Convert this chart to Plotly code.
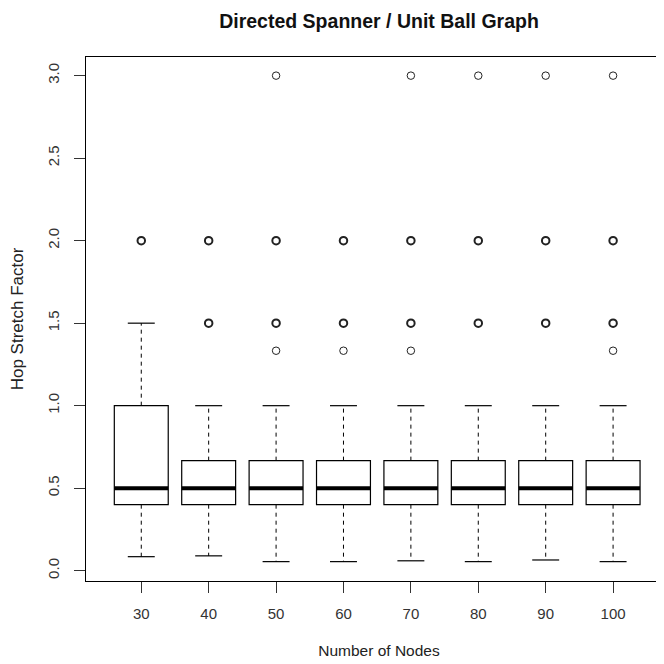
import plotly.graph_objects as go

# ---- data ----
nodes = ["30", "40", "50", "60", "70", "80", "90", "100"]
positions = [1, 2, 3, 4, 5, 6, 7, 8]
lower_whisker = [0.085, 0.09, 0.055, 0.055, 0.06, 0.055, 0.065, 0.055]
q1 = [0.4, 0.4, 0.4, 0.4, 0.4, 0.4, 0.4, 0.4]
median = [0.5, 0.5, 0.5, 0.5, 0.5, 0.5, 0.5, 0.5]
q3 = [1.0, 0.667, 0.667, 0.667, 0.667, 0.667, 0.667, 0.667]
upper_whisker = [1.5, 1.0, 1.0, 1.0, 1.0, 1.0, 1.0, 1.0]

# outliers: group position, value, repeated (bold) or single
outlier_pos = [1,
               2, 2,
               3, 3, 3, 3,
               4, 4, 4,
               5, 5, 5, 5,
               6, 6, 6,
               7, 7, 7,
               8, 8, 8, 8]
outlier_val = [2.0,
               1.5, 2.0,
               1.333, 1.5, 2.0, 3.0,
               1.333, 1.5, 2.0,
               1.333, 1.5, 2.0, 3.0,
               1.5, 2.0, 3.0,
               1.5, 2.0, 3.0,
               1.333, 1.5, 2.0, 3.0]
outlier_repeated = [True,
                    True, True,
                    False, True, True, False,
                    False, True, True,
                    False, True, True, False,
                    True, True, False,
                    True, True, False,
                    False, True, True, False]

title_text = "Directed Spanner / Unit Ball Graph"
x_title = "Number of Nodes"
y_title = "Hop Stretch Factor"
y_ticks = [0.0, 0.5, 1.0, 1.5, 2.0, 2.5, 3.0]

FONT = "Liberation Sans, Arial, sans-serif"
BOX_HALF = 0.4
CAP_HALF = 0.2

fig = go.Figure()

# boxes (q1..q3), whiskers suppressed
fig.add_trace(go.Box(
    x=positions, q1=q1, median=median, q3=q3,
    lowerfence=q1, upperfence=q3,
    width=2 * BOX_HALF, whiskerwidth=0,
    line=dict(color="black", width=1.2),
    fillcolor="rgba(255,255,255,0)",
    boxpoints=False, hoverinfo="skip", showlegend=False,
))

# dashed whiskers
wx, wy = [], []
for p, lo, a, b, hi in zip(positions, lower_whisker, q1, q3, upper_whisker):
    wx += [p, p, None, p, p, None]
    wy += [b, hi, None, a, lo, None]
fig.add_trace(go.Scatter(x=wx, y=wy, mode="lines",
                         line=dict(color="black", width=1, dash="4px,4px"),
                         hoverinfo="skip", showlegend=False))

# whisker caps
cx, cy = [], []
for p, lo, hi in zip(positions, lower_whisker, upper_whisker):
    cx += [p - CAP_HALF, p + CAP_HALF, None, p - CAP_HALF, p + CAP_HALF, None]
    cy += [hi, hi, None, lo, lo, None]
fig.add_trace(go.Scatter(x=cx, y=cy, mode="lines",
                         line=dict(color="black", width=1.2),
                         hoverinfo="skip", showlegend=False))

# thick medians
mx, my = [], []
for p, m in zip(positions, median):
    mx += [p - BOX_HALF, p + BOX_HALF, None]
    my += [m, m, None]
fig.add_trace(go.Scatter(x=mx, y=my, mode="lines",
                         line=dict(color="black", width=4),
                         hoverinfo="skip", showlegend=False))

# outliers
for rep, lw in [(False, 1), (True, 2)]:
    xs = [p for p, r in zip(outlier_pos, outlier_repeated) if r == rep]
    ys = [v for v, r in zip(outlier_val, outlier_repeated) if r == rep]
    fig.add_trace(go.Scatter(x=xs, y=ys, mode="markers",
                             marker=dict(symbol="circle-open", size=7.5,
                                         color="#222", line=dict(width=lw, color="#222")),
                             hoverinfo="skip", showlegend=False))

fig.update_layout(
    width=664, height=664,
    margin=dict(l=78, r=0, t=49, b=91),
    paper_bgcolor="white", plot_bgcolor="white",
    font=dict(family=FONT, size=15, color="#222"),
    title=dict(text="<b>" + title_text + "</b>", x=0.5, xref="paper",
               y=1 - 13 / 664, yref="container", yanchor="middle",
               font=dict(size=19.5, color="#111")),
    xaxis=dict(range=[0.18, 8.874], tickmode="array", tickvals=positions,
               ticktext=nodes, ticks="outside", ticklen=11, tickcolor="#333",
               showgrid=False, zeroline=False, showline=True, linecolor="black",
               mirror=True, linewidth=1.2, ticklabelstandoff=8,
               title=dict(text=x_title, standoff=24, font=dict(size=15.5)),
               tickfont=dict(size=15, color="#333")),
    yaxis=dict(range=[-0.0624, 3.113], tickmode="array", tickvals=y_ticks,
               ticktext=[f"{v:.1f}" for v in y_ticks], ticks="outside", ticklen=11,
               tickcolor="#333", tickangle=-90,
               showgrid=False, zeroline=False, showline=True, linecolor="black",
               mirror=False, linewidth=1.2, ticklabelstandoff=9,
               title=dict(text=y_title, standoff=22, font=dict(size=17)),
               tickfont=dict(size=15, color="#333")),
)

fig.write_html("out.html")
